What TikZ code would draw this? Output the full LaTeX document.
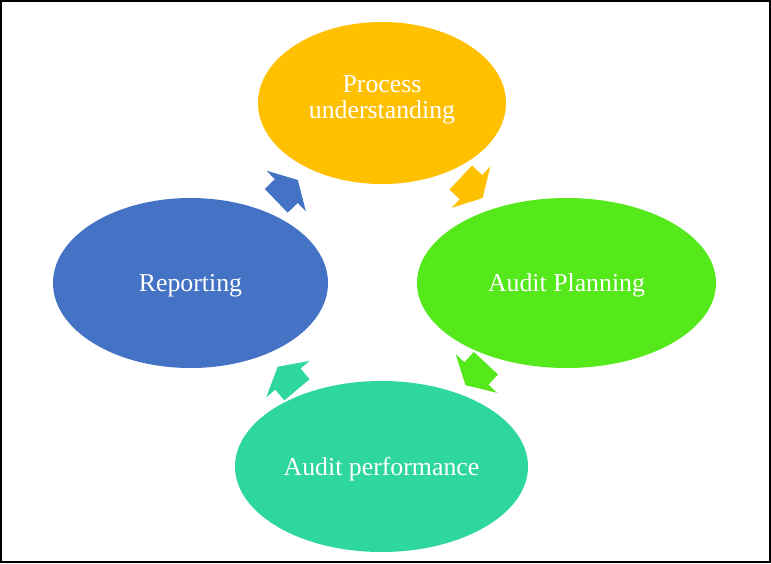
\documentclass[tikz,border=0pt]{standalone}
\usepackage{fontspec}
\setmainfont{Liberation Serif}
\usetikzlibrary{shapes.geometric}
\definecolor{cOrange}{HTML}{FFC000}
\definecolor{cGreen}{RGB}{85,232,26}
\definecolor{cTeal}{RGB}{46,214,160}
\definecolor{cBlue}{HTML}{4472C4}
\tikzset{
  bubble/.style={ellipse, inner sep=0pt},
  label text/.style={text=white, align=center, font=\fontsize{25.8}{26}\selectfont},
}
\newcommand{\cyclearrow}[4]{%
  \begin{scope}[shift={(#1,#2)}, rotate=#3]
    \fill[#4] (-15,-16.5) -- (-1,-16.5) -- (-1,-28.3) -- (15,0)
      -- (-1,28.3) -- (-1,16.5) -- (-15,16.5) -- cycle;
  \end{scope}}
\begin{document}
\begin{tikzpicture}[x=1pt,y=-1pt]
\useasboundingbox (0,0) rectangle (771,563);
\fill[white] (0,0) rectangle (771,563);
\draw[line width=2pt] (1,1) rectangle (770,562);
\node[bubble, fill=cOrange, minimum width=248pt, minimum height=162pt] (pu) at (382,103) {};
\node[label text] (put) at (382,100) {Process\\understanding};
\node[bubble, fill=cGreen, minimum width=299pt, minimum height=170pt] (ap) at (566.5,283) {};
\node[label text] (apt) at (566.5,285.5) {Audit Planning};
\node[bubble, fill=cTeal, minimum width=293pt, minimum height=171pt] (af) at (381.5,466.5) {};
\node[label text] (aft) at (381.5,469) {Audit performance};
\node[bubble, fill=cBlue, minimum width=275pt, minimum height=170pt] (rp) at (190.5,283) {};
\node[label text] (rpt) at (190.5,286) {Reporting};
\cyclearrow{471.7}{187.8}{-43}{cOrange}
\cyclearrow{475.7}{374.2}{-133}{cGreen}
\cyclearrow{287.3}{378.3}{130}{cTeal}
\cyclearrow{287}{190.4}{44}{cBlue}
\end{tikzpicture}
\end{document}
